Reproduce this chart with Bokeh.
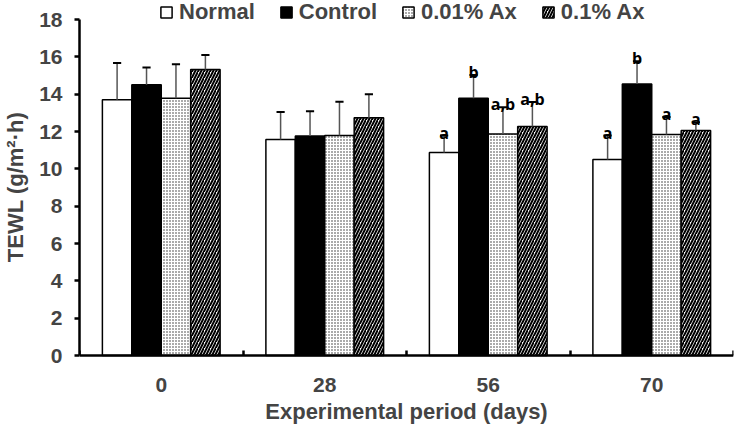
from bokeh.plotting import figure
from bokeh.models import (Range1d, FixedTicker, Legend, LegendItem, ColumnDataSource)
from bokeh.embed import file_html
from bokeh.resources import INLINE
from bokeh.core.properties import value

periods = ["0", "28", "56", "70"]
groups = ["Normal", "Control", "0.01% Ax", "0.1% Ax"]

normal_mean = [13.70, 11.57, 10.87, 10.50]
normal_err = [1.97, 1.48, 0.91, 1.28]
control_mean = [14.50, 11.76, 13.78, 14.55]
control_err = [0.93, 1.33, 1.25, 1.22]
ax001_mean = [13.78, 11.78, 11.87, 11.84]
ax001_err = [1.82, 1.82, 1.43, 0.94]
ax01_mean = [15.32, 12.73, 12.27, 12.05]
ax01_err = [0.78, 1.27, 1.31, 0.45]

sig_normal = ["", "", "a", "a"]
sig_control = ["", "", "b", "b"]
sig_ax001 = ["", "", "a,b", "a"]
sig_ax01 = ["", "", "a,b", "a"]

y_ticks = [0, 2, 4, 6, 8, 10, 12, 14, 16, 18]
x_title = "Experimental period (days)"
y_title = "TEWL (g/m²·h)"

means = [normal_mean, control_mean, ax001_mean, ax01_mean]
errs = [normal_err, control_err, ax001_err, ax01_err]
sigs = [sig_normal, sig_control, sig_ax001, sig_ax01]

# layout (pixels): figure 736x428, y=0 at 355px, y=18 at 19px from top
W, H = 736, 428
Y0_PX, YTOP_PX = 355, 19
px_per_unit = (Y0_PX - YTOP_PX) / (y_ticks[-1] - y_ticks[0])
y_start = -(H - Y0_PX) / px_per_unit
y_end = Y0_PX / px_per_unit

BAR_W = 0.18
offsets = [-1.5 * BAR_W, -0.5 * BAR_W, 0.5 * BAR_W, 1.5 * BAR_W]

p = figure(width=W, height=H, output_backend="svg", toolbar_location=None,
           x_range=Range1d(0, len(periods)), y_range=Range1d(y_start, y_end),
           min_border_left=78, min_border_right=3, min_border_top=0, min_border_bottom=0)
p.outline_line_color = None
p.xgrid.grid_line_color = None
p.ygrid.grid_line_color = None
p.background_fill_color = "white"
p.border_fill_color = "white"

FONT = "Liberation Sans"

styles = [
    dict(fill_color="white"),
    dict(fill_color="black"),
    dict(fill_color="white", hatch_pattern="dot", hatch_color="#2a2a2a", hatch_scale=3, hatch_weight=1),
    dict(fill_color="white", hatch_pattern="right_diagonal_line", hatch_color="black", hatch_scale=6, hatch_weight=2),
]

renderers = []
for gi in range(4):
    xs = [i + 0.5 + offsets[gi] for i in range(len(periods))]
    tops = means[gi]
    uppers = [m + e for m, e in zip(means[gi], errs[gi])]
    src = ColumnDataSource(dict(x=xs, top=tops, upper=uppers, lab=sigs[gi]))
    r = p.vbar(x="x", top="top", bottom=0, width=BAR_W, source=src,
               line_color="black", line_width=1.5, **styles[gi])
    renderers.append(r)
    p.segment(x0="x", y0="top", x1="x", y1="upper", source=src, line_color="#555555", line_width=1.5)
    cap = 0.025
    p.segment(x0=[x - cap for x in xs], y0=uppers, x1=[x + cap for x in xs], y1=uppers,
              line_color="black", line_width=2)
    p.text(x="x", y="upper", text="lab", source=src, text_align="center", text_baseline="alphabetic",
           y_offset=-3, text_font=value("Open Sans"), text_font_style="bold", text_font_size="16px",
           text_color="black")

# x axis at y = 0
xa = p.xaxis[0]
xa.fixed_location = 0
xa.ticker = FixedTicker(ticks=[i + 0.5 for i in range(len(periods))],
                        minor_ticks=[float(i) for i in range(len(periods) + 1)])
xa.major_label_overrides = {i + 0.5: periods[i] for i in range(len(periods))}
xa.major_tick_line_color = None
xa.major_tick_in = 0
xa.major_tick_out = 0
xa.minor_tick_line_color = "black"
xa.minor_tick_line_width = 2.5
xa.minor_tick_in = 5
xa.minor_tick_out = 0
xa.axis_line_width = 2.5
xa.axis_label = x_title
xa.axis_label_text_font = FONT
xa.axis_label_text_font_style = "bold"
xa.axis_label_text_font_size = "22px"
xa.axis_label_standoff = 4
xa.major_label_text_font = FONT
xa.major_label_text_font_style = "bold"
xa.major_label_text_font_size = "21px"
xa.major_label_standoff = 22

ya = p.yaxis[0]
ya.ticker = FixedTicker(ticks=y_ticks)
ya.bounds = (y_ticks[0], y_ticks[-1])
ya.minor_tick_line_color = None
ya.major_tick_in = 0
ya.major_tick_out = 5
ya.major_tick_line_width = 2.5
ya.axis_line_width = 2.5
# leading no-break spaces lift the title so it centres on the 0-18 span
ya.axis_label = "\u00a0" * 9 + y_title
ya.axis_label_text_font = FONT
ya.axis_label_text_font_style = "bold"
ya.axis_label_text_font_size = "22px"
ya.axis_label_standoff = 8
ya.major_label_text_font = FONT
ya.major_label_text_font_style = "bold"
ya.major_label_text_font_size = "21px"
ya.major_label_standoff = 12

legend = Legend(items=[LegendItem(label=groups[i], renderers=[renderers[i]]) for i in range(4)],
                orientation="horizontal", location=(80, H - 25),
                label_text_font=FONT, label_text_font_style="bold", label_text_font_size="22px",
                glyph_width=14, glyph_height=14, label_standoff=6, spacing=24,
                padding=0, margin=0, border_line_color=None, background_fill_alpha=0)
p.add_layout(legend, "center")

open("out.html", "w").write(file_html(p, INLINE))
